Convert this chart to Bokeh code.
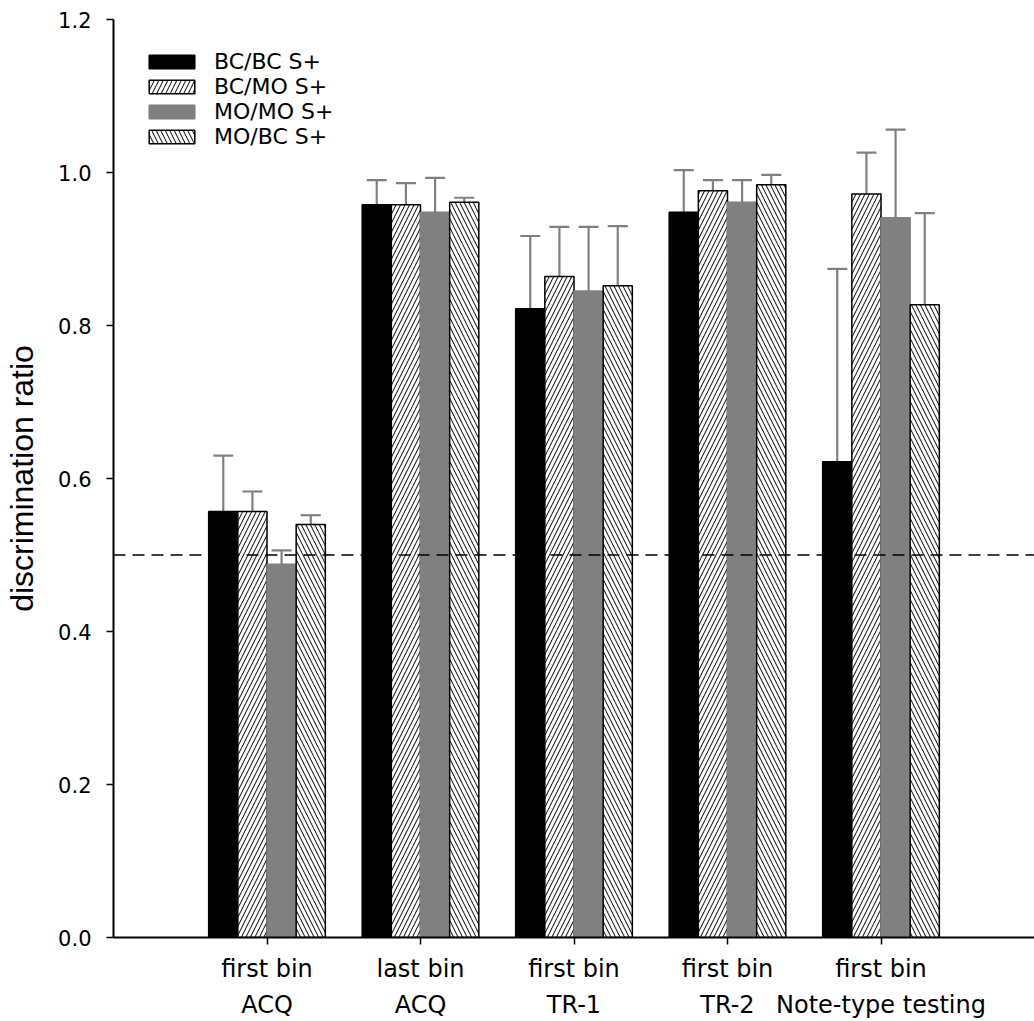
from bokeh.plotting import figure
from bokeh.models import (ColumnDataSource, Range1d, FixedTicker, Span, Whisker, TeeHead,
                          PrintfTickFormatter, LinearAxis)
from bokeh.transform import dodge
from bokeh.embed import file_html
from bokeh.resources import INLINE

cat_line1 = ["first bin", "last bin", "first bin", "first bin", "first bin"]
cat_line2 = ["ACQ", "ACQ", "TR-1", "TR-2", "Note-type testing"]
positions = [1, 2, 3, 4, 5]
series_names = ["BC/BC S+", "BC/MO S+", "MO/MO S+", "MO/BC S+"]

bcbc = [0.557, 0.958, 0.822, 0.948, 0.622]
bcmo = [0.557, 0.958, 0.864, 0.976, 0.972]
momo = [0.488, 0.948, 0.845, 0.961, 0.941]
mobc = [0.540, 0.961, 0.852, 0.984, 0.827]

bcbc_err = [0.073, 0.032, 0.095, 0.055, 0.252]
bcmo_err = [0.026, 0.028, 0.065, 0.014, 0.054]
momo_err = [0.018, 0.045, 0.084, 0.029, 0.115]
mobc_err = [0.012, 0.006, 0.078, 0.013, 0.120]

chance_level = 0.5
y_ticks = [0.0, 0.2, 0.4, 0.6, 0.8, 1.0, 1.2]

FONT = "DejaVu Sans"
BAR_W = 0.19

p = figure(width=1034, height=1021, output_backend="svg", toolbar_location=None,
           x_range=Range1d(0, 6), y_range=Range1d(0, 1.2),
           min_border_left=113, min_border_right=0, min_border_top=19, min_border_bottom=82)
p.outline_line_color = None
p.xgrid.visible = False
p.ygrid.visible = False

styles = [
    dict(fill_color="black", line_color="black", hatch_pattern=None),
    dict(fill_color="white", line_color="black", hatch_pattern="/"),
    dict(fill_color="#808080", line_color="#808080", hatch_pattern=None),
    dict(fill_color="white", line_color="black", hatch_pattern="\\"),
]
series = [bcbc, bcmo, momo, mobc]
errs = [bcbc_err, bcmo_err, momo_err, mobc_err]
offsets = [-1.5 * BAR_W, -0.5 * BAR_W, 0.5 * BAR_W, 1.5 * BAR_W]

for name, vals, err, off, st in zip(series_names, series, errs, offsets, styles):
    src = ColumnDataSource(dict(x=positions, top=vals,
                                upper=[v + e for v, e in zip(vals, err)]))
    kw = dict(fill_color=st["fill_color"], line_color=st["line_color"], line_width=1.5)
    if st["hatch_pattern"]:
        kw.update(hatch_pattern=st["hatch_pattern"], hatch_color="black", hatch_scale=9, hatch_weight=1)
    w = Whisker(source=src, base=dodge("x", off), lower="top", upper="upper",
                line_color="#808080", line_width=2.2,
                upper_head=TeeHead(size=20, line_color="#808080", line_width=2.2),
                lower_head=None, level="underlay")
    p.add_layout(w)
    p.vbar(x=dodge("x", off), top="top", width=BAR_W, bottom=0, source=src, legend_label=name, **kw)

p.add_layout(Span(location=chance_level, dimension="width", line_color="black",
                  line_dash="12 7", line_width=1.6))

# y axis
p.yaxis.ticker = FixedTicker(ticks=y_ticks)
p.yaxis.formatter = PrintfTickFormatter(format="%.1f")
p.yaxis.axis_label = "discrimination ratio"
p.yaxis.axis_label_text_font = "Liberation Sans"
p.yaxis.axis_label_text_font_size = "32px"
p.yaxis.axis_label_text_font_style = "normal"
p.yaxis.axis_label_text_color = "black"
p.yaxis.axis_label_standoff = 15
p.yaxis.major_label_text_font_size = "21px"
p.yaxis.major_label_standoff = 15

# x axis: first label line on the main axis
p.xaxis.ticker = FixedTicker(ticks=positions)
p.xaxis.major_label_overrides = {pos: lab for pos, lab in zip(positions, cat_line1)}
p.xaxis.major_label_text_font_size = "24px"
p.xaxis.major_label_standoff = 10

for ax in (p.xaxis, p.yaxis):
    ax.axis_line_width = 2
    ax.axis_line_color = "black"
    ax.major_tick_in = 0
    ax.major_tick_out = 7
    ax.major_tick_line_width = 1.5
    ax.minor_tick_line_color = None
    ax.major_label_text_font = FONT
    ax.major_label_text_color = "black"

# second label line on an extra axis below
ax2 = LinearAxis(ticker=FixedTicker(ticks=positions),
                 major_label_overrides={pos: lab for pos, lab in zip(positions, cat_line2)},
                 axis_line_color=None, major_tick_line_color=None, minor_tick_line_color=None,
                 major_tick_in=0, major_tick_out=0, major_label_standoff=5,
                 major_label_text_font=FONT, major_label_text_font_size="24px",
                 major_label_text_color="black")
p.add_layout(ax2, "below")

lg = p.legend[0]
lg.location = "top_left"
lg.margin = 30
lg.padding = 0
lg.glyph_width = 57
lg.glyph_height = 17
lg.label_standoff = 14
lg.label_text_font = FONT
lg.label_text_font_size = "22px"
lg.label_text_color = "black"
lg.label_height = 17
lg.spacing = -3
lg.background_fill_alpha = 0
lg.border_line_color = None

open("out.html", "w").write(file_html(p, INLINE))
